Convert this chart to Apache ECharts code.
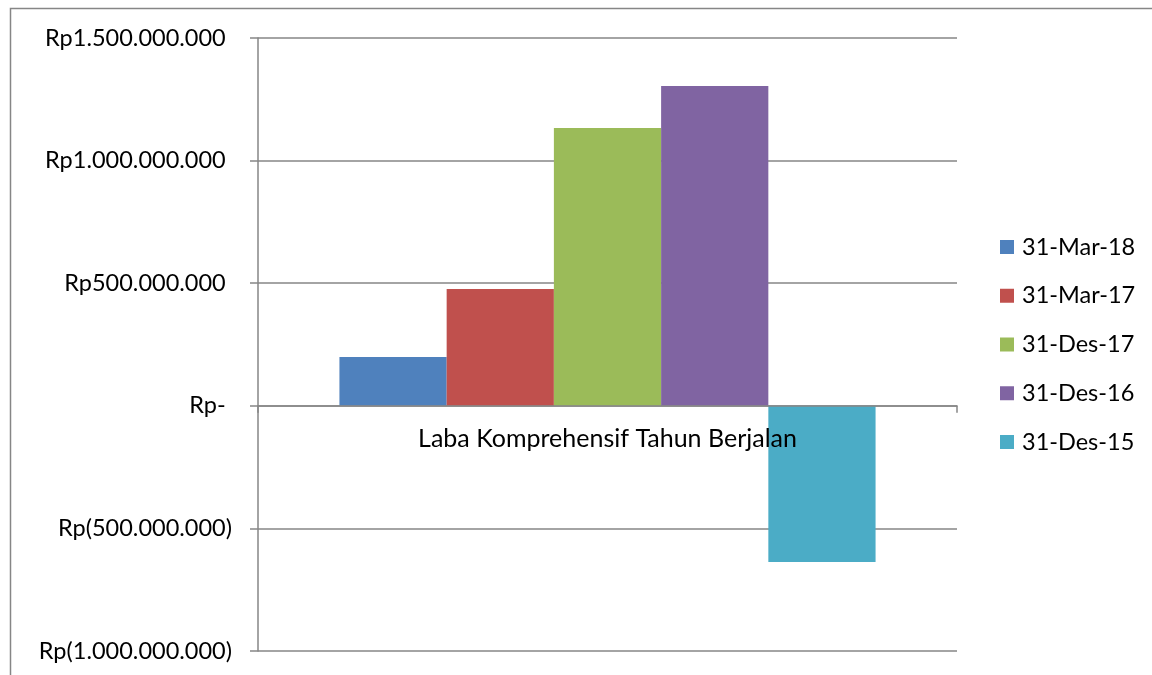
<!DOCTYPE html>
<html>
<head>
<meta charset="utf-8">
<script src="https://cdn.jsdelivr.net/npm/echarts@6/dist/echarts.min.js"></script>
<style>
  html, body { margin: 0; padding: 0; background: #ffffff; }
  #chart { width: 1152px; height: 675px; }
</style>
</head>
<body>
<div id="chart"></div>
<script>
// Comprehensive income for the year, per reporting date (Rupiah)
const categories = ['Laba Komprehensif Tahun Berjalan'];
const seriesNames = ['31-Mar-18', '31-Mar-17', '31-Des-17', '31-Des-16', '31-Des-15'];
const seriesValues = [
  [199000000],
  [476000000],
  [1133000000],
  [1304000000],
  [-637000000]
];
const seriesColors = ['#4F81BD', '#C0504D', '#9BBB59', '#8064A2', '#4BACC6'];
const yMin = -1000000000;
const yMax = 1500000000;
const yStep = 500000000;

const FONT = 'Lato';
const AXIS_GRAY = '#868686';
const GRID = { left: 258, right: 195, top: 38, bottom: 24 };
const CHART_H = 675;

// Accounting-style Rupiah label: dots as thousand separators, negatives in
// parentheses, zero as "Rp-"; non-negatives keep an invisible ")" so digits line up.
function rupiah(v) {
  if (v === 0) return 'Rp-{pad|)}';
  const s = Math.abs(v).toFixed(0).replace(/\B(?=(\d{3})+(?!\d))/g, '.');
  return v < 0 ? 'Rp(' + s + ')' : 'Rp' + s + '{pad|)}';
}

// The category name sits just under the zero line, so its axis is shifted up to zero.
const plotH = CHART_H - GRID.top - GRID.bottom;
const zeroOffset = -plotH * (0 - yMin) / (yMax - yMin);

const chart = echarts.init(document.getElementById('chart'), null, { renderer: 'canvas' });

chart.setOption({
  animation: false,
  backgroundColor: '#ffffff',
  textStyle: { fontFamily: FONT },
  graphic: [{
    type: 'rect',
    shape: { x: 10.5, y: 8.5, width: 1160, height: 700 },
    style: { fill: 'none', stroke: AXIS_GRAY, lineWidth: 1.5 },
    silent: true,
    z: -1
  }],
  grid: Object.assign({ containLabel: false, outerBoundsMode: 'none' }, GRID),
  legend: {
    orient: 'vertical',
    left: 1000,
    top: 235,
    padding: 0,
    itemWidth: 14,
    itemHeight: 14,
    itemGap: 24.75,
    icon: 'rect',
    textStyle: { fontFamily: FONT, fontSize: 23.5, lineHeight: 24, color: '#000000', padding: [0, 0, 0, 3] },
    data: seriesNames
  },
  xAxis: [{
    type: 'category',
    data: categories,
    axisLine: { onZero: true, lineStyle: { color: AXIS_GRAY, width: 1.5 } },
    axisTick: { show: true, length: 7, lineStyle: { color: AXIS_GRAY, width: 1.5 } },
    axisLabel: { show: false },
    z: 10
  }, {
    type: 'category',
    data: categories,
    position: 'bottom',
    offset: zeroOffset,
    axisLine: { show: false },
    axisTick: { show: false },
    axisLabel: { color: '#000000', fontFamily: FONT, fontSize: 25, margin: 21 },
    z: 10
  }],
  yAxis: {
    type: 'value',
    min: yMin,
    max: yMax,
    interval: yStep,
    axisLine: { show: true, lineStyle: { color: AXIS_GRAY, width: 1.5 } },
    axisTick: { show: true, length: 8, lineStyle: { color: AXIS_GRAY, width: 1.5 } },
    splitLine: { show: true, lineStyle: { color: AXIS_GRAY, width: 1.5 } },
    axisLabel: {
      color: '#000000', fontFamily: FONT, fontSize: 23.5, margin: 26,
      formatter: rupiah,
      rich: { pad: { color: 'rgba(0,0,0,0)', fontFamily: FONT, fontSize: 23.5 } }
    }
  },
  series: seriesNames.map((name, i) => ({
    name: name,
    type: 'bar',
    xAxisIndex: 0,
    data: seriesValues[i],
    barGap: '0%',
    barCategoryGap: '23.3%',
    itemStyle: { color: seriesColors[i] }
  }))
});
</script>
</body>
</html>
